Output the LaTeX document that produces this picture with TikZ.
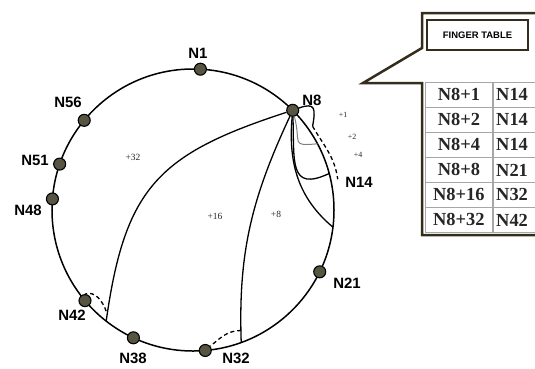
\documentclass[tikz,border=0pt]{standalone}
\usepackage{fontspec}
\setmainfont{Liberation Serif}
\setsansfont{Liberation Sans}
\definecolor{peerfill}{RGB}{88,84,66}
\definecolor{framebrown}{RGB}{52,45,28}

\begin{document}
\begin{tikzpicture}[x=1bp, y=1bp,
  peer/.style = {shape=circle, draw=black, line width=1.1bp,
    fill=peerfill, minimum size=12bp, inner sep=0pt},
  tag/.style = {font=\sffamily\bfseries\fontsize{15}{15}\selectfont},
  hop/.style = {font=\fontsize{9.5}{9.5}\selectfont, text=black!85},
  smallhop/.style = {hop, font=\fontsize{8}{8}\selectfont},
  finger/.style = {line width=1.3bp},
  hookline/.style = {line width=1.3bp, dash pattern=on 4bp off 3bp},
  frameline/.style = {draw=framebrown, line width=2.5bp},
  cell/.style = {shape=rectangle, draw=black!35, line width=0.8bp,
    minimum height=25bp, inner sep=0pt, anchor=north west,
    font=\bfseries\fontsize{18.5}{18.5}\selectfont, text=black!85}]
  \useasboundingbox (-193,-158) rectangle (342,210);
  \clip (-193,-158) rectangle (342,210);

  % the ring
  \draw[line width=1.5bp] (0,0) circle (141bp);

  % peers on the ring
  \node[peer] (n1) at (87:141) {};
  \node[peer] (n8) at (45:141) {};
  \coordinate (n14) at (12:148);
  \node[peer] (n21) at (-26:141) {};
  \node[peer] (n32) at (-85:141) {};
  \node[peer] (n38) at (-115:141) {};
  \node[peer] (n42) at (-140:141) {};
  \node[peer] (n48) at (175.5:141) {};
  \node[peer] (n51) at (161:141) {};
  \node[peer] (n56) at (140.5:141) {};

  \node[tag] (l1) at (5,157) {N1};
  \node[tag] (l8) at (119,110) {N8};
  \node[tag] (l14) at (166,28) {N14};
  \node[tag] (l21) at (154,-73) {N21};
  \node[tag] (l32) at (43,-148) {N32};
  \node[tag] (l38) at (-60,-148) {N38};
  \node[tag] (l42) at (-121,-105) {N42};
  \node[tag] (l48) at (-165,0) {N48};
  \node[tag] (l51) at (-158,50) {N51};
  \node[tag] (l56) at (-125,108) {N56};

  % where the fingers land
  \coordinate (f1) at (35:146);
  \coordinate (f2) at (28:141);
  \coordinate (f4) at (15:141);
  \coordinate (f8) at (-7:141);
  \coordinate (f16) at (-70:141);
  \coordinate (f32) at (-128:141);

  \draw[finger] (n8) to[out=198,in=82,looseness=1.25] (f32);
  \draw[finger] (n8) to[out=245,in=92] (f16);
  \draw[finger] (n8) to[out=265,in=140] (f8);
  \draw[finger] (n8) to[out=272,in=205,looseness=1.7] (f4);
  \draw[finger,draw=black!50,line width=1bp] (n8) to[out=285,in=185,looseness=2] (f2);
  \draw[finger] (n8) to[out=20,in=80,looseness=2] (f1);

  \draw[hookline] (f1) to[out=-60,in=98] (n14);
  \draw[hookline] ([yshift=12bp]f16) to[out=180,in=40] (n32);
  \draw[hookline] ([yshift=10bp]f32) to[out=110,in=20] (n42.north);

  \node[smallhop] (h1) at (150,95) {+1};
  \node[smallhop] (h2) at (159,73) {+2};
  \node[smallhop] (h4) at (165,55) {+4};
  \node[hop] (h8) at (83,-4) {+8};
  \node[hop] (h16) at (22,-6) {+16};
  \node[hop] (h32) at (-60,53) {+32};

  % finger table callout
  \draw[frameline] (347,197) -- (229,197) -- (229,162) -- (170,127)
    -- (229,127) -- (229,-25) -- (347,-25);
  \node[frameline, minimum width=101bp, minimum height=30bp,
    font=\sffamily\bfseries\fontsize{9.5}{9.5}\selectfont] (ft) at (284.5,175) {FINGER TABLE};
  \foreach \k/\v [count=\i] in {1/14,2/14,4/14,8/21,16/32,32/42} {
    \node[cell, minimum width=67bp] (k\i) at (232,153-25*\i) {N8+\k};
    \node[cell, text width=64bp, align=left, inner xsep=3bp] (v\i) at (k\i.north east) {N\v};
  }
\end{tikzpicture}
\end{document}
